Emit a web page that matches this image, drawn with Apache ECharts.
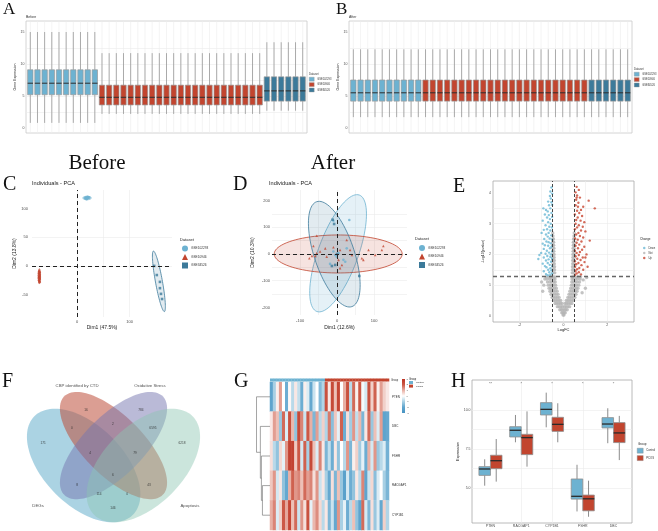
<!DOCTYPE html>
<html><head><meta charset="utf-8">
<script src="https://cdn.jsdelivr.net/npm/echarts@6.0.0/dist/echarts.min.js"></script>
<style>html,body{margin:0;padding:0;background:#fff;}#chart{width:658px;height:531px;}</style>
</head><body><div id="chart"></div>
<script>
// ================= DATA =================
// Panels A/B : per-sample expression boxplots
const datasetNames = ['GSE102293', 'GSE10946', 'GSE34526'];
const sampleDataset = [0,0,0,0,0,0,0,0,0,0,
  1,1,1,1,1,1,1,1,1,1,1,1,1,1,1,1,1,1,1,1,1,1,1,
  2,2,2,2,2,2];
// [lower whisker, Q1, median, Q3, upper whisker]
const beforeStats = [[0.8,5.2,7.0,9.1,15.0],[2.2,3.6,4.8,6.7,11.7],[2.7,4.2,5.8,8.0,13.4]];
const afterStats  = [[1.7,4.2,5.5,7.5,12.3],[1.7,4.2,5.5,7.5,12.3],[1.7,4.2,5.5,7.5,12.3]];
const exprLabelTicks = [0,5,10,15];
const exprGridTicks = [0,2.5,5,7.5,10,12.5,15];

// Panel C : PCA before
const pcaBefore102293 = [[15,119],[17,120],[19,118],[20,121],[22,119],[18,117],[21,120],[16,118],[23,120],[19,119]];
const pcaBefore10946 = [[-72,-8],[-71,-10],[-73,-12],[-72,-14],[-71,-16],[-73,-18],[-72,-19],[-71,-21],[-72,-22],[-73,-24],[-72,-26],[-71,-27],[-72,-11],[-73,-15],[-71,-13],[-72,-17],[-73,-20],[-71,-23],[-72,-25],[-72,-28],[-73,-9],[-71,-18],[-72,-20]];
const pcaBefore34526 = [[147,0],[152,-16],[158,-28],[158,-39],[160,-49],[162,-58]];
// ellipse: [centerX, centerY, axis1X, axis1Y, axis2X, axis2Y]
const ellipsesBefore = [[19,119,8,0,0,3],[-72,-18,0,13,2.2,0],[156,-27,-10.5,53,6.5,1.3]];
// Panel D : PCA after
const pcaAfter102293 = [[-10,124],[33,127],[26,21],[-5,-4],[-1,-10],[17,-22],[4,3],[-10,9],[-19,-37],[22,-29]];
const pcaAfter10946 = [[-55,68],[-64,30],[-68,-7],[-75,-16],[-59,-7],[-55,3],[-32,21],[-28,-10],[-10,25],[8,15],[26,52],[35,15],[13,-41],[8,-53],[4,-22],[67,-16],[71,-22],[85,15],[103,-4],[121,15],[125,30],[40,-4],[-46,9]];
const pcaAfter34526 = [[-12,128],[-8,112],[-5,-41],[-14,-45],[60,-82],[0,0]];
const ellipsesAfter = [[2.7,2.6,57.5,217.5,50.8,-25.7],[3,0,173,0,0,71],[-7.6,-0.7,-47.5,196,51.3,23.6]];

// Panel E : volcano
const volcanoDown = [[-0.55,4.18],[-0.6,4.05],[-0.52,3.98],[-0.62,3.9],[-0.58,3.82],[-0.7,3.72],[-0.55,3.7],[-0.66,3.6],[-0.52,3.62],
 [-0.92,3.5],[-0.8,3.45],[-0.72,3.4],[-0.6,3.5],[-0.55,3.35],[-0.85,3.3],[-0.67,3.28],[-0.52,3.22],[-0.75,3.2],[-0.62,3.15],
 [-0.95,3.1],[-0.7,3.05],[-0.58,3.0],[-0.82,2.95],[-0.65,2.9],[-0.53,2.88],[-0.75,2.82],[-0.9,2.8],[-0.6,2.78],[-0.68,2.7],
 [-1.0,2.7],[-0.8,2.65],[-0.56,2.62],[-0.72,2.58],[-0.63,2.52],[-0.88,2.5],[-0.52,2.48],[-0.78,2.42],[-0.68,2.4],[-0.58,2.36],[-0.95,2.35],
 [-0.85,2.3],[-0.7,2.28],[-0.55,2.25],[-0.62,2.2],[-0.9,2.18],[-0.76,2.12],[-0.52,2.1],[-0.66,2.06],[-1.02,2.05],[-0.82,2.02],[-0.58,2.0],
 [-1.1,1.98],[-0.74,1.95],[-0.6,1.92],[-0.9,1.9],[-0.53,1.86],[-0.68,1.84],[-0.8,1.8],[-1.15,1.85],[-0.57,1.76],[-0.72,1.72],[-0.95,1.7],[-0.63,1.66],[-0.52,1.62],[-0.85,1.62],
 [-0.78,1.58],[-0.6,1.55],[-0.7,1.5],[-0.55,1.48],[-0.9,1.45],[-0.65,1.42],[-0.52,1.38],[-0.8,1.36],[-0.6,1.34],[-0.72,1.32]];
const volcanoUp = [[0.6,4.2],[0.7,4.1],[0.55,4.02],[0.62,3.92],[0.75,3.85],[1.15,3.75],[0.58,3.78],[0.68,3.68],[1.43,3.5],[0.9,3.55],[0.55,3.6],[0.8,3.45],[0.62,3.42],[0.72,3.35],[0.52,3.3],[0.85,3.25],[0.65,3.2],[0.58,3.12],[0.78,3.1],[0.95,3.05],[0.55,3.0],[0.7,2.95],[0.88,2.9],[0.62,2.88],[0.52,2.82],[0.8,2.78],[1.0,2.75],[0.68,2.7],[0.58,2.65],[0.75,2.6],[0.9,2.55],[0.53,2.52],[0.65,2.48],[1.2,2.45],[0.82,2.42],[0.6,2.38],[0.72,2.32],[0.55,2.28],[0.95,2.25],[0.66,2.2],[0.85,2.15],[0.52,2.12],[0.75,2.08],[0.6,2.05],[1.05,2.0],[0.7,1.98],[0.55,1.94],[0.88,1.9],[0.63,1.86],[0.78,1.82],[0.52,1.78],[0.96,1.75],[0.68,1.72],[0.58,1.68],[0.82,1.65],[0.53,1.6],[0.72,1.56],[0.62,1.52],[0.9,1.5],[0.55,1.46],[0.7,1.42],[0.6,1.38],[0.8,1.35],[0.52,1.33],[1.0,1.9],[1.1,1.6],[0.66,3.55],[0.6,3.85]];
const volcanoNot = [[-0.02,0.03],[0.02,0.03],
 [-0.08,0.1],[-0.03,0.1],[0.03,0.1],[0.08,0.1],
 [-0.17,0.2],[-0.1,0.2],[-0.04,0.2],[0.04,0.2],[0.1,0.2],[0.17,0.2],
 [-0.28,0.3],[-0.2,0.3],[-0.12,0.3],[-0.05,0.3],[0.05,0.3],[0.12,0.3],[0.2,0.3],[0.28,0.3],
 [-0.38,0.4],[-0.3,0.4],[-0.22,0.4],[-0.14,0.4],[-0.07,0.4],[0.07,0.4],[0.14,0.4],[0.22,0.4],[0.3,0.4],[0.38,0.4],
 [-0.45,0.5],[-0.37,0.5],[-0.29,0.5],[-0.21,0.5],[-0.13,0.5],[0.13,0.5],[0.21,0.5],[0.29,0.5],[0.37,0.5],[0.45,0.5],
 [-0.52,0.6],[-0.44,0.6],[-0.36,0.6],[-0.28,0.6],[-0.2,0.6],[0.2,0.6],[0.28,0.6],[0.36,0.6],[0.44,0.6],[0.52,0.6],
 [-0.57,0.7],[-0.49,0.7],[-0.41,0.7],[-0.33,0.7],[-0.25,0.7],[0.25,0.7],[0.33,0.7],[0.41,0.7],[0.49,0.7],[0.57,0.7],
 [-0.62,0.8],[-0.54,0.8],[-0.46,0.8],[-0.38,0.8],[-0.29,0.8],[0.29,0.8],[0.38,0.8],[0.46,0.8],[0.54,0.8],[0.62,0.8],
 [-0.66,0.9],[-0.58,0.9],[-0.5,0.9],[-0.42,0.9],[-0.33,0.9],[0.33,0.9],[0.42,0.9],[0.5,0.9],[0.58,0.9],[0.66,0.9],
 [-0.7,1.0],[-0.6,1.0],[-0.52,1.0],[-0.44,1.0],[-0.36,1.0],[0.36,1.0],[0.44,1.0],[0.52,1.0],[0.6,1.0],[0.7,1.0],
 [-0.73,1.1],[-0.62,1.1],[-0.53,1.1],[-0.45,1.1],[-0.38,1.1],[0.38,1.1],[0.45,1.1],[0.53,1.1],[0.62,1.1],[0.73,1.1],
 [-0.76,1.2],[-0.64,1.2],[-0.55,1.2],[-0.46,1.2],[-0.39,1.2],[0.39,1.2],[0.46,1.2],[0.55,1.2],[0.64,1.2],[0.76,1.2],
 [-0.78,1.27],[-0.66,1.27],[-0.56,1.27],[-0.47,1.27],[-0.4,1.27],[0.4,1.27],[0.47,1.27],[0.56,1.27],[0.66,1.27],[0.78,1.27],
 [-0.48,1.4],[-0.4,1.4],[0.4,1.4],[0.48,1.4],[-0.48,1.5],[-0.41,1.5],[0.41,1.5],[0.48,1.5],
 [-0.48,1.6],[-0.41,1.6],[0.41,1.6],[0.48,1.6],[-0.48,1.7],[-0.42,1.7],[0.42,1.7],[0.48,1.7],
 [-0.48,1.8],[-0.42,1.8],[0.42,1.8],[0.48,1.8],[-0.49,1.9],[-0.43,1.9],[0.43,1.9],[0.49,1.9],
 [-0.49,2.0],[-0.43,2.0],[0.43,2.0],[0.49,2.0],[-0.49,2.1],[-0.44,2.1],[0.44,2.1],[0.49,2.1],
 [-0.49,2.2],[-0.44,2.2],[0.44,2.2],[0.49,2.2],[-0.49,2.3],[-0.45,2.3],[0.45,2.3],[0.49,2.3],
 [-0.49,2.4],[-0.45,2.4],[0.45,2.4],[0.49,2.4],[-0.49,2.5],[-0.46,2.5],[0.46,2.5],[0.49,2.5],
 [-0.48,2.6],[0.48,2.6],[-0.49,2.7],[0.49,2.7],
 [-0.9,1.0],[-0.95,0.8],[0.9,1.17],[1.06,1.25],[1.0,0.9],[-0.85,1.2],[0.85,0.75],[-1.0,1.1]];
const logFCCut = 0.5, log10PCut = 1.3;

// Panel F : Venn
const vennSets = ['DEGs','CBP identified by CTD','Oxidative Stress','Apoptosis'];
// [centerX, centerY, semiMajor, semiMinor, rotationDeg] in unit square
const vennEllipses = [[0.35,0.47,0.35,0.2,135],[0.5,0.57,0.35,0.15,135],[0.5,0.57,0.35,0.15,45],[0.65,0.47,0.35,0.2,45]];
const vennCounts = [171,16,784,6218,0,2,6595,4,79,6,8,43,114,0,146];
const vennCountPos = [[0.146,0.582],[0.362,0.748],[0.638,0.748],[0.844,0.582],[0.291,0.657],[0.497,0.677],[0.698,0.657],[0.382,0.532],[0.608,0.532],[0.497,0.421],[0.317,0.371],[0.678,0.371],[0.427,0.326],[0.568,0.326],[0.497,0.255]];
const vennSetPos = [[0.121,0.265],[0.317,0.868],[0.683,0.868],[0.884,0.265]];

// Panel G : heatmap
const heatGenes = ['PTEN','DBC','FSHR','RACGAP1','CYP1B1'];
const sampleGroup = [0,0,0,0,0,0,0,0,0,0,0,0,0,0,0,0,0,0, 1,1,1,1,1,1,1,1,1,1,1,1,1,1,1,1,1,1,1,1,1];
const heatValues = [
 [-2.0,-1.0,0.2,1.2,0.0,-1.8,0.1,-0.8,0.3,-0.7,-1.8,0.2,-0.4,-1.9,-0.6,0.0,-1.5,-0.9, 2.2,0.3,2.4,0.8,2.5,0.0,1.0,2.2,-0.8,1.8,0.2,2.0,-0.1,-0.5,2.2,0.6,1.9,0.2,1.2,0.6,0.3],
 [0.3,1.2,0.8,-1.2,1.8,-0.4,2.2,0.9,-1.3,2.4,1.5,-0.6,2.0,1.0,-1.6,1.2,-0.8,0.6, -0.9,1.6,-1.4,0.7,-0.3,1.9,-1.8,0.4,-1.1,1.3,-0.7,0.9,-1.6,0.3,1.8,-1.2,0.8,-0.4,1.2,-2.0,-1.9],
 [0.4,-0.8,-1.3,0.5,-0.3,1.3,2.6,2.6,0.7,2.0,-0.5,1.9,-1.0,2.4,0.8,-0.4,1.5,0.3, -1.6,-0.7,-1.8,0.3,-1.3,0.0,-0.8,1.3,-1.6,0.2,0.6,-1.1,-0.3,-1.8,1.0,-0.5,1.3,-1.2,-0.8,-0.4,-1.7],
 [0.7,1.3,-0.5,0.3,-1.3,-1.9,1.0,1.9,1.3,1.5,0.8,1.8,1.2,1.5,0.4,1.3,-0.6,0.3, -1.0,-1.9,0.4,-1.6,0.8,-1.2,-2.2,-0.5,-1.8,-1.3,0.3,-0.8,1.5,-2.0,-0.6,0.5,-1.4,-0.4,0.0,-1.0,-1.6],
 [1.0,1.5,-0.4,0.6,2.0,1.1,2.5,0.8,1.8,-0.6,1.3,0.4,2.2,-0.3,0.9,1.4,0.5,-0.8, 0.3,-1.6,-0.6,-1.9,1.3,-1.0,-0.3,-1.8,-0.8,0.8,-1.3,-2.0,1.8,-0.5,-1.6,0.4,-1.2,-0.4,-1.9,0.6,-0.9]
];
// [child A, child B, merge height]; leaves 0..4, merges numbered from 5
const dendroMerges = [[3,4,7.3],[2,5,8.3],[1,6,9.3],[0,7,13.0]];
const colorbarTicks = [-3,-2,-1,0,1,2,3];

// Panel H : hub gene boxplots
const hubGenes = ['PTEN','RACGAP1','CYP1B1','FSHR','DBC'];
const controlStats = [[5.15,5.81,6.22,6.37,6.84],[7.93,8.27,8.70,8.93,9.68],[8.89,9.68,10.04,10.47,11.11],[3.50,4.29,4.47,5.58,6.49],[7.87,8.85,9.10,9.51,10.11]];
const pcosStats = [[5.41,6.24,6.75,7.10,8.14],[6.37,7.14,8.23,8.44,9.91],[7.93,8.63,9.08,9.53,10.43],[3.16,3.54,4.31,4.55,5.47],[6.79,7.91,8.53,9.19,9.62]];
const sigLabels = ['**','*','*','*','*'];
const hLabelTicks = [5,7.5,10];
const hGridTicks = [3.75,5,6.25,7.5,8.75,10,11.25];

// ================= STYLE =================
const FONT = 'Liberation Sans, Arial, sans-serif';
const SERIF = 'Liberation Serif, Times New Roman, serif';
const dsColors = ['#6db2d1','#c2452f','#3c7a9a'];
const groupColors = ['#6db2d1','#c2452f'];
const changeColors = {Down:'#6ab8d4', Not:'#b4b4b4', Up:'#c8452f'};
const vennFills = ['rgba(88,168,200,0.5)','rgba(190,78,58,0.55)','rgba(118,118,175,0.5)','rgba(140,198,178,0.45)'];
// colour stops for -3,-2,-1,0,1,2,3
const heatColors = ['#4893c2','#5ea4cd','#a8d0e4','#ffffff','#e8b0a5','#cc5846','#bd3424'];

const chart = echarts.init(document.getElementById('chart'), null, {renderer:'canvas', width:658, height:531});

function valAxis(grid, min, max, o) {
  o = o || {};
  const ax = {
    gridIndex: grid, type: 'value', min: min, max: max,
    axisLine: {show: false},
    axisTick: {show: false, customValues: o.grid || o.labels || []},
    axisLabel: {show: !!o.labels, customValues: o.labels || [], fontSize: o.fs || 3.5, color: '#4d4d4d',
      margin: (o.margin != null ? o.margin : 2), fontFamily: FONT, formatter: o.fmt},
    splitLine: {show: !!o.grid, showMinLine: false, showMaxLine: false, lineStyle: {color: o.gridColor || '#ebebeb', width: 0.6}}
  };
  if (o.name) {
    ax.name = o.name; ax.nameLocation = 'middle'; ax.nameGap = o.nameGap;
    ax.nameTextStyle = {fontSize: o.nameFs || 4, color: '#222', fontFamily: FONT};
    if (o.rot) ax.nameRotate = 90;
  }
  if (o.inverse) ax.inverse = true;
  if (o.position) ax.position = o.position;
  return ax;
}

function boxRender(o) {
  return function (params, api) {
    const x = api.value(0) + (o.offset || 0);
    const pLo = api.coord([x, api.value(1)]);
    const pQ1 = api.coord([x, api.value(2)]);
    const pMed = api.coord([x, api.value(3)]);
    const pQ3 = api.coord([x, api.value(4)]);
    const pHi = api.coord([x, api.value(5)]);
    const bw = api.size([o.width, 0])[0];
    const cx = pLo[0];
    const cs = params.coordSys;
    const fill = api.visual('color');
    const ch = [];
    if (o.vgrid) ch.push({type:'line', shape:{x1:cx, y1:cs.y, x2:cx, y2:cs.y + cs.height}, style:{stroke:o.vgrid, lineWidth:0.6}});
    ch.push({type:'line', shape:{x1:cx, y1:pHi[1], x2:cx, y2:pQ3[1]}, style:{stroke:o.whisker, lineWidth:o.lw}});
    ch.push({type:'line', shape:{x1:cx, y1:pQ1[1], x2:cx, y2:pLo[1]}, style:{stroke:o.whisker, lineWidth:o.lw}});
    ch.push({type:'rect', shape:{x:cx - bw/2, y:pQ3[1], width:bw, height:pQ1[1] - pQ3[1]}, style:{fill:fill, stroke:o.border, lineWidth:o.lw}});
    ch.push({type:'line', shape:{x1:cx - bw/2, y1:pMed[1], x2:cx + bw/2, y2:pMed[1]}, style:{stroke:o.median, lineWidth:o.medW}});
    return {type:'group', children:ch};
  };
}

function ellipseRender(fills, strokes, lw) {
  return function (params, api) {
    const cx = api.value(0), cy = api.value(1), ux = api.value(2), uy = api.value(3), vx = api.value(4), vy = api.value(5);
    const pts = [];
    for (let k = 0; k <= 90; k++) {
      const t = k / 90 * 2 * Math.PI;
      pts.push(api.coord([cx + ux*Math.cos(t) + vx*Math.sin(t), cy + uy*Math.cos(t) + vy*Math.sin(t)]));
    }
    return {type:'polygon', shape:{points:pts}, style:{fill:fills[params.dataIndex], stroke:strokes[params.dataIndex], lineWidth:lw}};
  };
}

// ================= GRIDS & AXES =================
const grids = [
  {left:26, top:21, width:281, height:112, show:true, borderColor:'#c9c9c9', borderWidth:0.8, backgroundColor:'#fff'},   // 0 A
  {left:349, top:21, width:283, height:112, show:true, borderColor:'#c9c9c9', borderWidth:0.8, backgroundColor:'#fff'},  // 1 B
  {left:32, top:190, width:140, height:127},   // 2 C
  {left:272, top:190, width:135, height:125},  // 3 D
  {left:493, top:181, width:141, height:141, show:true, borderColor:'#a8a8a8', borderWidth:0.8, backgroundColor:'#fff'}, // 4 E
  {left:14, top:360, width:199, height:170},   // 5 F
  {left:270, top:382, width:119, height:148},  // 6 G heat
  {left:270, top:378.5, width:119, height:3},  // 7 G annotation
  {left:256, top:382, width:14, height:148},   // 8 G dendrogram
  {left:402, top:379, width:3, height:34},     // 9 G colorbar
  {left:472, top:380, width:160, height:143, show:true, borderColor:'#a8a8a8', borderWidth:0.8, backgroundColor:'#fff'} // 10 H
];

const sampleIds = sampleGroup.map((g, i) => 'S' + (i + 1));

const xAxes = [
  valAxis(0, 0.4, 39.6),
  valAxis(1, 0.4, 39.6),
  valAxis(2, -86, 181, {grid:[-50,0,50,100,150], labels:[0,100], fs:4, margin:3, name:'Dim1 (47.5%)', nameGap:8.5, nameFs:5}),
  valAxis(3, -176, 189, {grid:[-150,-100,-50,0,50,100,150], labels:[-100,0,100], fs:4, margin:4, name:'Dim1 (12.6%)', nameGap:10, nameFs:5}),
  valAxis(4, -3.22, 3.22, {grid:[-3,-2,-1,0,1,2,3], labels:[-2,0,2], fs:3.5, margin:1, name:'LogFC', nameGap:5, nameFs:4}),
  valAxis(5, 0, 1),
  {gridIndex:6, type:'category', data:sampleIds, show:false},
  {gridIndex:7, type:'category', data:sampleIds, show:false},
  valAxis(8, 0, 13.5, {inverse:true}),
  valAxis(9, 0, 1),
  valAxis(10, 0.4, 5.6, {grid:[1,2,3,4,5], labels:[1,2,3,4,5], fs:3.5, margin:1.5, fmt: v => hubGenes[Math.round(v) - 1]})
];
const yAxes = [
  valAxis(0, -0.78, 16.72, {grid:exprGridTicks, labels:exprLabelTicks, fs:3.5, margin:1.5, name:'Gene Expression', nameGap:4, nameFs:3.5, rot:true}),
  valAxis(1, -0.78, 16.72, {grid:exprGridTicks, labels:exprLabelTicks, fs:3.5, margin:1.5, name:'Gene Expression', nameGap:4, nameFs:3.5, rot:true}),
  valAxis(2, -89.5, 133, {grid:[-50,0,50,100], labels:[-50,0,50,100], fs:4, margin:4, name:'Dim2 (13.8%)', nameGap:9.5, nameFs:5, rot:true}),
  valAxis(3, -228, 239, {grid:[-200,-150,-100,-50,0,50,100,150,200], labels:[-200,-100,0,100,200], fs:4, margin:2, name:'Dim2 (10.3%)', nameGap:17, nameFs:5, rot:true}),
  valAxis(4, -0.2, 4.39, {grid:[0,0.5,1,1.5,2,2.5,3,3.5,4], labels:[0,1,2,3,4], fs:3.5, margin:2, name:'-Log10(pvalue)', nameGap:5, nameFs:3.5, rot:true}),
  valAxis(5, 0.146, 1),
  {gridIndex:6, type:'category', data:heatGenes, inverse:true, position:'right', axisLine:{show:false}, axisTick:{show:false}, splitLine:{show:false},
    axisLabel:{fontSize:3, color:'#333', margin:3, fontFamily:FONT}},
  valAxis(7, 0, 1),
  valAxis(8, 0, 5, {inverse:true}),
  valAxis(9, -3, 3, {labels:colorbarTicks, fs:2.5, margin:1.5, position:'right'}),
  valAxis(10, 2.76, 11.92, {grid:hGridTicks, labels:hLabelTicks, fs:3.5, margin:1.5, fmt: v => v.toFixed(1), name:'Expression', nameGap:9, nameFs:3.8, rot:true})
];

// ================= SERIES =================
const series = [];
const boxAB = boxRender({width:0.75, vgrid:'#ececec', whisker:'#8a8a8a', border:'#9a9a9a', median:'#2e2e2e', lw:0.7, medW:1});
datasetNames.forEach((nm, d) => {
  series.push({type:'custom', name:nm, xAxisIndex:0, yAxisIndex:0, renderItem:boxAB, itemStyle:{color:dsColors[d]}, silent:true,
    data: sampleDataset.map((ds, i) => [i + 1].concat(beforeStats[ds])).filter(r => sampleDataset[r[0] - 1] === d)});
});
datasetNames.forEach((nm, d) => {
  series.push({type:'custom', name:nm, xAxisIndex:1, yAxisIndex:1, renderItem:boxAB, itemStyle:{color:dsColors[d]}, silent:true,
    data: sampleDataset.map((ds, i) => [i + 1].concat(afterStats[ds])).filter(r => sampleDataset[r[0] - 1] === d)});
});

const dashLine = {silent:true, symbol:'none', label:{show:false}, animation:false,
  lineStyle:{type:[4,3], color:'#222', width:1}, data:[{xAxis:0}, {yAxis:0}]};

// C
series.push({type:'custom', name:'ellipseC', xAxisIndex:2, yAxisIndex:2, silent:true,
  renderItem: ellipseRender(['rgba(109,178,209,0.2)','rgba(194,69,47,0.2)','rgba(60,122,154,0.15)'], dsColors, 0.8),
  data: ellipsesBefore});
const pcaSymbols = ['circle','triangle','rect'];
[pcaBefore102293, pcaBefore10946, pcaBefore34526].forEach((pts, d) => {
  const s = {type:'scatter', name:datasetNames[d], xAxisIndex:2, yAxisIndex:2, symbol:pcaSymbols[d], symbolSize:2.6,
    itemStyle:{color:dsColors[d]}, data:pts, silent:true};
  if (d === 0) s.markLine = dashLine;
  series.push(s);
});
// D
series.push({type:'custom', name:'ellipseD', xAxisIndex:3, yAxisIndex:3, silent:true,
  renderItem: ellipseRender(['rgba(109,178,209,0.18)','rgba(194,69,47,0.15)','rgba(60,122,154,0.15)'], dsColors, 0.8),
  data: ellipsesAfter});
[pcaAfter102293, pcaAfter10946, pcaAfter34526].forEach((pts, d) => {
  const s = {type:'scatter', name:datasetNames[d], xAxisIndex:3, yAxisIndex:3, symbol:pcaSymbols[d], symbolSize:2.6,
    itemStyle:{color:dsColors[d]}, data:pts, silent:true};
  if (d === 0) s.markLine = dashLine;
  series.push(s);
});
// E
series.push({type:'scatter', name:'Not', xAxisIndex:4, yAxisIndex:4, symbolSize:3.4, itemStyle:{color:changeColors.Not}, data:volcanoNot, silent:true,
  markLine:{silent:true, symbol:'none', label:{show:false}, animation:false, z:5,
    data:[{xAxis:-logFCCut, lineStyle:{type:[3,2], color:'#333', width:0.9}},
          {xAxis:logFCCut, lineStyle:{type:[3,2], color:'#333', width:0.9}},
          {yAxis:log10PCut, lineStyle:{type:[4,3], color:'#666', width:1.4}}]}});
series.push({type:'scatter', name:'Down', xAxisIndex:4, yAxisIndex:4, symbolSize:2.4, itemStyle:{color:changeColors.Down}, data:volcanoDown, silent:true});
series.push({type:'scatter', name:'Up', xAxisIndex:4, yAxisIndex:4, symbolSize:2.4, itemStyle:{color:changeColors.Up}, data:volcanoUp, silent:true});
// F
series.push({type:'custom', name:'venn', xAxisIndex:5, yAxisIndex:5, silent:true, data:vennEllipses,
  renderItem: function (params, api) {
    const cx = api.value(0), cy = api.value(1), a = api.value(2), b = api.value(3), th = api.value(4) * Math.PI / 180;
    const pts = [];
    for (let k = 0; k <= 120; k++) {
      const t = k / 120 * 2 * Math.PI;
      pts.push(api.coord([cx + a*Math.cos(t)*Math.cos(th) - b*Math.sin(t)*Math.sin(th),
                          cy + a*Math.cos(t)*Math.sin(th) + b*Math.sin(t)*Math.cos(th)]));
    }
    return {type:'polygon', shape:{points:pts}, style:{fill:vennFills[params.dataIndex]}};
  }});
series.push({type:'scatter', name:'vennCounts', xAxisIndex:5, yAxisIndex:5, symbolSize:0, silent:true,
  data: vennCounts.map((c, i) => ({value:vennCountPos[i], name:String(c)})),
  label:{show:true, position:'inside', formatter: p => p.name, fontSize:3.2, color:'#222', fontFamily:FONT}});
series.push({type:'scatter', name:'vennSets', xAxisIndex:5, yAxisIndex:5, symbolSize:0, silent:true,
  data: vennSets.map((s, i) => ({value:vennSetPos[i], name:s})),
  label:{show:true, position:'inside', formatter: p => p.name, fontSize:4.3, color:'#222', fontFamily:FONT}});
// G
const heatData = [];
heatValues.forEach((row, r) => row.forEach((v, c) => heatData.push([c, r, v])));
const heatIndex = series.length;
series.push({type:'heatmap', name:'heat', xAxisIndex:6, yAxisIndex:6, data:heatData, silent:true, itemStyle:{borderWidth:0}, progressive:0});
series.push({type:'custom', name:'groupBar', xAxisIndex:7, yAxisIndex:7, silent:true,
  data: sampleGroup.map((g, i) => [i, g]),
  renderItem: function (params, api) {
    const p = api.coord([api.value(0), 0]);
    const bw = api.size([1, 0])[0];
    const cs = params.coordSys;
    return {type:'rect', shape:{x:p[0] - bw/2, y:cs.y, width:bw + 0.3, height:cs.height}, style:{fill:groupColors[api.value(1)]}};
  }});
// dendrogram
const nodeY = [0.5, 1.5, 2.5, 3.5, 4.5], nodeH = [0, 0, 0, 0, 0];
const dendroSegs = [];
dendroMerges.forEach(m => {
  const [a, b, h] = m;
  dendroSegs.push([nodeH[a], nodeY[a], h, nodeY[a]]);
  dendroSegs.push([nodeH[b], nodeY[b], h, nodeY[b]]);
  dendroSegs.push([h, nodeY[a], h, nodeY[b]]);
  nodeY.push((nodeY[a] + nodeY[b]) / 2); nodeH.push(h);
});
series.push({type:'custom', name:'dendro', xAxisIndex:8, yAxisIndex:8, silent:true, data:dendroSegs,
  renderItem: function (params, api) {
    const p1 = api.coord([api.value(0), api.value(1)]), p2 = api.coord([api.value(2), api.value(3)]);
    return {type:'line', shape:{x1:p1[0], y1:p1[1], x2:p2[0], y2:p2[1]}, style:{stroke:'#666', lineWidth:0.6}};
  }});
series.push({type:'custom', name:'colorbar', xAxisIndex:9, yAxisIndex:9, silent:true, data:[[0, 0]],
  renderItem: function (params, api) {
    const cs = params.coordSys;
    const stops = heatColors.map((c, i) => ({offset: 1 - i / (heatColors.length - 1), color: c}));
    stops.reverse();
    return {type:'rect', shape:{x:cs.x, y:cs.y, width:cs.width, height:cs.height},
      style:{fill:new echarts.graphic.LinearGradient(0, 0, 0, 1, stops)}};
  }});
// H
series.push({type:'custom', name:'Control', xAxisIndex:10, yAxisIndex:10, silent:true, itemStyle:{color:groupColors[0]},
  renderItem: boxRender({offset:-0.1875, width:0.375, whisker:'#6e6e6e', border:'#8e8e8e', median:'#2a2a2a', lw:0.8, medW:1.3}),
  data: hubGenes.map((g, i) => [i + 1].concat(controlStats[i]))});
series.push({type:'custom', name:'PCOS', xAxisIndex:10, yAxisIndex:10, silent:true, itemStyle:{color:groupColors[1]},
  renderItem: boxRender({offset:0.1875, width:0.375, whisker:'#6e6e6e', border:'#8e8e8e', median:'#2a2a2a', lw:0.8, medW:1.3}),
  data: hubGenes.map((g, i) => [i + 1].concat(pcosStats[i]))});
series.push({type:'scatter', name:'sig', xAxisIndex:10, yAxisIndex:10, symbolSize:0, silent:true,
  data: sigLabels.map((s, i) => ({value:[i + 1, 11.7], name:s})),
  label:{show:true, position:'inside', formatter: p => p.name, fontSize:4, color:'#333', fontFamily:FONT}});

// ================= LEGENDS =================
function lg(left, top, names, o) {
  return {left:left, top:top, orient:'vertical', padding:0, selectedMode:false,
    itemWidth:o.w, itemHeight:o.h, itemGap:o.gap,
    textStyle:{fontSize:o.fs, color:'#333', fontFamily:FONT, padding:[0,0,0,-2]},
    data: names.map((n, i) => ({name:n, icon:o.icons ? o.icons[i] : 'rect',
      itemStyle:{color:o.colors[i], borderColor:o.border || 'transparent', borderWidth:o.border ? 0.4 : 0}}))};
}
const legends = [
  lg(309, 77, datasetNames, {w:5, h:4, gap:1, fs:2.6, colors:dsColors, border:'#999'}),
  lg(634, 72, datasetNames, {w:5, h:4, gap:1, fs:2.6, colors:dsColors, border:'#999'}),
  lg(182, 245.5, datasetNames, {w:6, h:6, gap:2.5, fs:3.2, colors:dsColors, icons:['circle','triangle','rect']}),
  lg(419, 245, datasetNames, {w:6, h:6, gap:2.5, fs:3.2, colors:dsColors, icons:['circle','triangle','rect']}),
  lg(643, 246.5, ['Down','Not','Up'], {w:2.5, h:2.5, gap:2, fs:2.6, colors:[changeColors.Down, changeColors.Not, changeColors.Up], icons:['circle','circle','circle']}),
  lg(409, 381, ['Control','PCOS'], {w:4, h:3, gap:0.6, fs:2.5, colors:groupColors}),
  lg(637, 448, ['Control','PCOS'], {w:6, h:5, gap:2, fs:2.8, colors:groupColors, border:'#888'})
];

// ================= TEXT =================
function txt(text, x, y, size, o) {
  o = o || {};
  return {type:'text', x:x, y:y, silent:true, z:100,
    style:{text:text, fontSize:size, fontFamily:o.serif ? SERIF : FONT, fill:o.color || '#111',
      align:o.align || 'left', verticalAlign:'middle'}};
}
const graphics = [
  txt('A', 3, 10, 17, {serif:true}), txt('B', 336, 10, 17, {serif:true}),
  txt('Before', 26, 17.3, 3.5, {color:'#333'}), txt('After', 349, 17, 3.5, {color:'#333'}),
  txt('Dataset', 309, 74, 2.8, {color:'#333'}), txt('Dataset', 634, 69, 2.8, {color:'#333'}),
  txt('Before', 97, 163, 21, {serif:true, align:'center'}), txt('After', 333, 163, 21, {serif:true, align:'center'}),
  txt('C', 3, 185, 20, {serif:true}), txt('D', 233, 185, 20, {serif:true}), txt('E', 453, 187, 20, {serif:true}),
  txt('F', 2, 382, 20, {serif:true}), txt('G', 234, 382, 20, {serif:true}), txt('H', 451, 382, 20, {serif:true}),
  txt('Individuals - PCA', 32, 183, 5.6, {color:'#222'}), txt('Individuals - PCA', 269, 183, 5.6, {color:'#222'}),
  txt('Dataset', 180, 240, 4, {color:'#222'}), txt('Dataset', 415, 239, 4, {color:'#222'}),
  txt('Change', 640, 239, 3, {color:'#222'}),
  txt('Group', 391, 380, 2.6, {color:'#333'}), txt('Group', 409, 379, 2.6, {color:'#222'}),
  txt('Group', 638, 444, 3, {color:'#222'})
];

chart.setOption({
  animation:false,
  backgroundColor:'#ffffff',
  textStyle:{fontFamily:FONT},
  grid:grids, xAxis:xAxes, yAxis:yAxes,
  visualMap:[{type:'continuous', show:false, min:-3, max:3, seriesIndex:heatIndex, inRange:{color:heatColors}}],
  legend:legends,
  series:series,
  graphic:graphics
});
</script></body></html>
